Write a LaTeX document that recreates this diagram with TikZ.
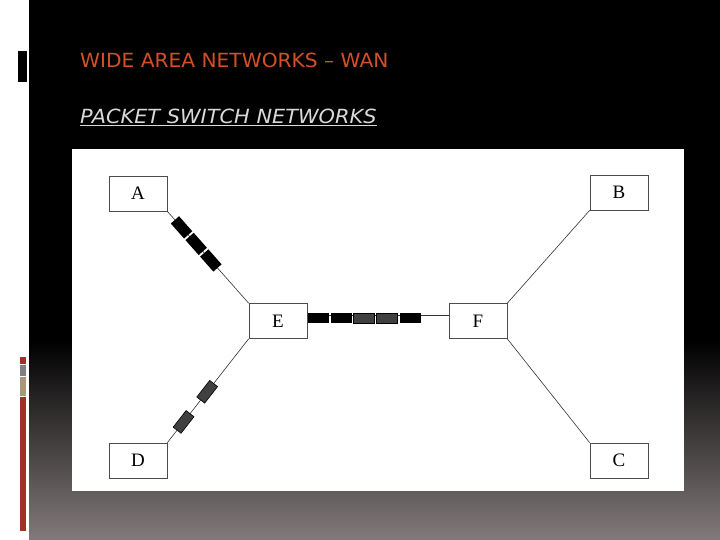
\documentclass[tikz,border=0pt]{standalone}
\usepackage{fontspec}
\usetikzlibrary{calc}
\setmainfont{Liberation Serif}
\newfontfamily\ttl{DejaVu Sans}
\definecolor{barred}{RGB}{160,48,40}
\definecolor{bartan}{RGB}{170,150,120}
\definecolor{botgray}{RGB}{130,122,122}
\definecolor{ttlor}{RGB}{210,80,40}
\begin{document}
\begin{tikzpicture}[x=1pt,y=-1pt,
  box/.style={draw=black!70,fill=white,line width=0.6pt,minimum width=58pt,minimum height=35pt,inner sep=0pt,font=\fontsize{19}{20}\selectfont},
  ln/.style={draw=black!80,line width=0.6pt},
  pk/.style={fill=black,draw=none,inner sep=0pt},
  pkg/.style={fill=black!75,draw=black,line width=0.6pt,inner sep=0pt}]
\useasboundingbox (0,0) rectangle (720,540);
\fill[white] (0,0) rectangle (720,540);
\fill[black] (29,0) rectangle (720,340);
\shade[top color=black,bottom color=botgray] (29,340) rectangle (720,540);
\draw[white,fill=black,line width=0.8pt] (17,50) rectangle (27,82);
\fill[barred] (20,357) rectangle (26,364);
\fill[gray] (20,365) rectangle (26,376);
\fill[bartan] (20,377) rectangle (26,396);
\fill[barred] (20,397) rectangle (26,531);
\node[anchor=west,inner sep=0pt,text=ttlor,font=\ttl\fontsize{19.5}{21}\selectfont,xscale=1.035] (t) at (80,60) {WIDE AREA NETWORKS \textendash{} WAN};
\node[anchor=west,inner sep=0pt,text=white!85!black,font=\ttl\itshape\fontsize{19.5}{21}\selectfont,xscale=1.07] (s) at (80,117) {\underline{PACKET SWITCH NETWORKS}};
\fill[white] (72,149) rectangle (684,491);
\node[box] (A) at (138,193.5) {A};
\node[box] (B) at (619,192.5) {B};
\node[box] (E) at (278,321) {E};
\node[box] (F) at (478,321) {F};
\node[box] (D) at (138,460.5) {D};
\node[box] (C) at (619,460.5) {C};
\draw[ln] (A.south east) -- (E.north west);
\draw[ln] (E.south west) -- (D.north east);
\draw[ln] (B.south west) -- (F.north east);
\draw[ln] (F.south east) -- (C.north west);
\draw[ln] ([yshift=6pt]E.east) -- ([yshift=6pt]F.west);
\foreach \x/\s in {318/pk,341/pk,364/pkg,387/pkg,410/pk}
  \node[\s,minimum width=21pt,minimum height=10pt] (h\x) at (\x,318) {};
\foreach \t/\n in {0.175/a1,0.355/a2,0.535/a3}
  \node[pk,rotate=-48.6,minimum width=20pt,minimum height=11pt] (\n) at ($(A.south east)!\t!(E.north west)$) {};
\foreach \t/\n in {0.51/d1,0.80/d2}
  \node[pkg,rotate=52,minimum width=21pt,minimum height=10pt] (\n) at ($(E.south west)!\t!(D.north east)$) {};
\end{tikzpicture}
\end{document}
